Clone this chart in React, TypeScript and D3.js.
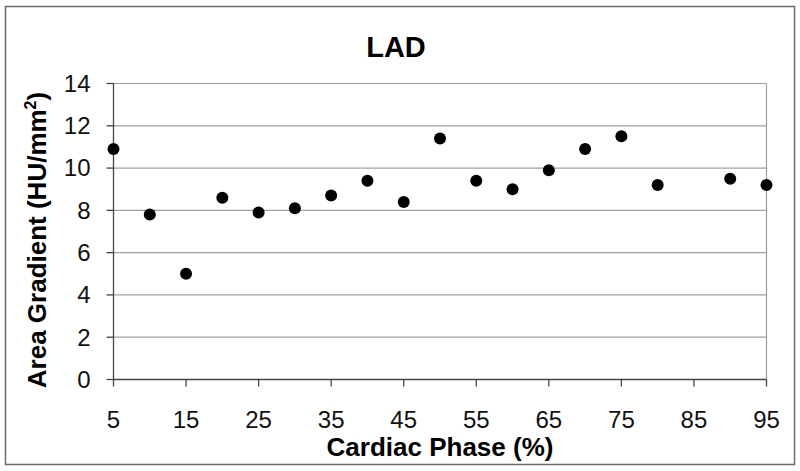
import React from "react";
import * as d3 from "d3";

const phases = [5, 10, 15, 20, 25, 30, 35, 40, 45, 50, 55, 60, 65, 70, 75, 80, 90, 95];
const gradients = [10.9, 7.8, 5.0, 8.6, 7.9, 8.1, 8.7, 9.4, 8.4, 11.4, 9.4, 9.0, 9.9, 10.9, 11.5, 9.2, 9.5, 9.2];
const xTicks = [5, 15, 25, 35, 45, 55, 65, 75, 85, 95];
const yTicks = [0, 2, 4, 6, 8, 10, 12, 14];
const title = "LAD";
const xTitle = "Cardiac Phase (%)";

const W = 800;
const H = 471;
const m = { left: 113.5, right: 33.5, top: 83.5, bottom: 91.5 };
const FONT = "'Liberation Sans', Arial, Helvetica, sans-serif";

export default function App() {
  const x = d3.scaleLinear().domain([5, 95]).range([m.left, W - m.right]);
  const y = d3.scaleLinear().domain([0, 14]).range([H - m.bottom, m.top]);
  const [x0, x1] = x.range();
  const [y0, y1] = y.range();

  return (
    <svg
      width={W}
      height={H}
      style={{ position: "absolute", left: 0, top: 0, background: "#fff" }}
      fontFamily={FONT}
    >
      <rect x={5.5} y={6.5} width={789} height={458} fill="#fff" stroke="#6a6a6a" strokeWidth={1.5} />
      {yTicks.filter((t) => t > 0).map((t) => (
        <line key={"g" + t} x1={x0} x2={x1} y1={y(t)} y2={y(t)} stroke="#a0a0a0" strokeWidth={1.2} />
      ))}
      <line x1={x1} x2={x1} y1={y1} y2={y0} stroke="#a0a0a0" strokeWidth={1.2} />
      <line x1={x0} x2={x0} y1={y1} y2={y0} stroke="#444" strokeWidth={1.3} />
      <line x1={x0} x2={x1} y1={y0} y2={y0} stroke="#444" strokeWidth={1.3} />
      {yTicks.map((t) => (
        <g key={"y" + t}>
          <line x1={x0 - 7} x2={x0} y1={y(t)} y2={y(t)} stroke="#444" strokeWidth={1.3} />
          <text x={x0 - 23} y={y(t)} dy="0.35em" textAnchor="end" fontSize={24} fill="#111">
            {t}
          </text>
        </g>
      ))}
      {xTicks.map((t) => (
        <g key={"x" + t}>
          <line x1={x(t)} x2={x(t)} y1={y0} y2={y0 + 7} stroke="#444" strokeWidth={1.3} />
          <text x={x(t)} y={428} textAnchor="middle" fontSize={24} fill="#111">
            {t}
          </text>
        </g>
      ))}
      {phases.map((p, i) => (
        <circle key={"p" + p} cx={x(p)} cy={y(gradients[i])} r={6} fill="#000" />
      ))}
      <text x={396} y={57} textAnchor="middle" fontSize={29} fontWeight="bold" fill="#000">
        {title}
      </text>
      <text x={(x0 + x1) / 2} y={456} textAnchor="middle" fontSize={26} fontWeight="bold" fill="#000">
        {xTitle}
      </text>
      <text
        transform={`translate(46,240) rotate(-90)`}
        textAnchor="middle"
        fontSize={26}
        fontWeight="bold"
        fill="#000"
      >
        Area Gradient (HU/mm<tspan fontSize={16} dy={-10}>2</tspan>
        <tspan dy={10}>)</tspan>
      </text>
    </svg>
  );
}
